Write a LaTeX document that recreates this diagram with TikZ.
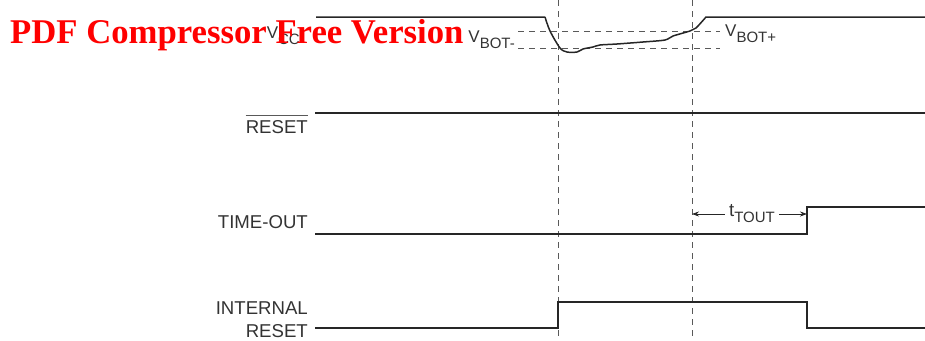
\documentclass[tikz,border=0pt]{standalone}
\usepackage{fontspec}
\setmainfont{Liberation Sans}
\newfontfamily\wmfont{Liberation Serif}
\usetikzlibrary{positioning,arrows.meta,calc}
\newcommand{\subtxt}[1]{\raisebox{-6pt}{\fontsize{15}{16}\selectfont #1}}

\begin{document}
\begin{tikzpicture}[x=1pt, y=-1pt,
    every node/.style={font=\fontsize{18.6}{20}\selectfont, text=black!80, inner sep=0pt},
    vlbl/.style={font=\fontsize{17}{19}\selectfont},
    wave/.style={line width=1.5pt, black!85, line join=miter},
    guide/.style={line width=0.8pt, black!65, dash pattern=on 6pt off 5pt},
    tip/.style={-{Stealth[length=7pt,width=5pt]}, line width=0.8pt, black!85}]
  \useasboundingbox (0,0) rectangle (925,340);

  % dashed guides
  \draw[guide] (558,0) -- (558,340);
  \draw[guide] (692,0) -- (692,340);
  \draw[guide] (518,31) -- (720,31);
  \draw[guide] (518,48) -- (720,48);

  % signal names
  \node[vlbl, anchor=base east] (vcc) at (300,38) {V\subtxt{CC}};
  \node[anchor=base east] (rst) at (308,133) {RESET};
  \draw[line width=1pt, black!65] ([yshift=4pt]rst.north west) -- ([yshift=4pt]rst.north east);
  \node[anchor=base east] (tout) at (308,228) {TIME-OUT};
  \node[anchor=base east] (intl) at (308,314) {INTERNAL};
  \node[anchor=base east] (irst) at (308,337) {RESET};

  % threshold labels
  \node[vlbl, anchor=base east] (vbotm) at (515,42) {V\subtxt{BOT-}};
  \node[vlbl, anchor=base west] (vbotp) at (725,36) {V\subtxt{BOT+}};

  % waveforms
  \draw[wave] (316,17) -- (545,17)
    plot[smooth, tension=0.5] coordinates {(545,17) (550,31) (560,48) (567,52) (577,52) (583,49)
      (593,47) (600,45) (617,44) (643,42) (665,40) (673,36) (690,31) (696,28) (706,17)}
    -- (925,17);
  \draw[wave] (315,113) -- (925,113);
  \draw[wave] (315,234) -- (807,234) -- (807,207) -- (925,207);
  \draw[wave] (315,328) -- (558,328) -- (558,302) -- (807,302) -- (807,328) -- (925,328);

  % time-out interval
  \node[inner sep=4pt] (ttout) at (752,214) {t\subtxt{TOUT}};
  \coordinate (tl) at (692,214);
  \coordinate (tr) at (807,214);
  \draw[tip] (ttout.west |- tl) -- (tl);
  \draw[tip] (ttout.east |- tr) -- (tr);

  % watermark
  \node[anchor=base west, text=red, font=\wmfont\bfseries\fontsize{34.7}{36}\selectfont] (wm) at (10,43) {PDF Compressor Free Version};
\end{tikzpicture}
\end{document}
